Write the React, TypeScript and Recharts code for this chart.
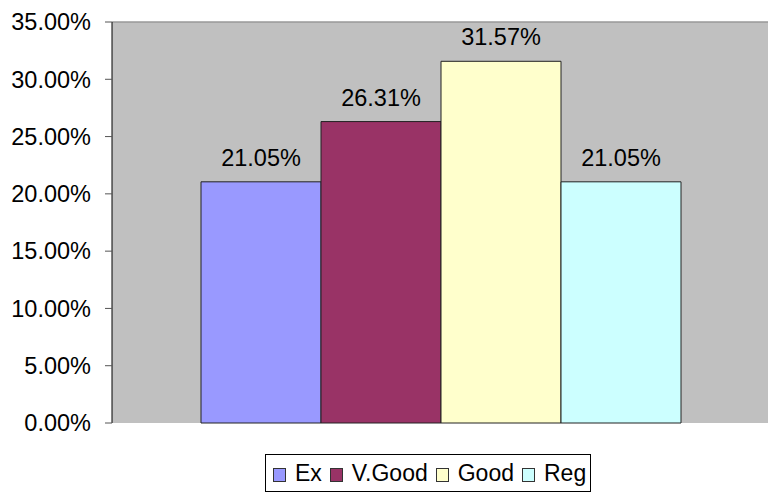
import React from 'react';
import {
  BarChart,
  Bar,
  XAxis,
  YAxis,
  CartesianGrid,
  ReferenceLine,
  Legend,
  LabelList
} from 'recharts';

const seriesNames = ['Ex', 'V.Good', 'Good', 'Reg'];
const seriesValues = [0.2105, 0.2631, 0.3157, 0.2105];
const seriesColors = ['#9999FF', '#993366', '#FFFFCC', '#CCFFFF'];
const yTicks = [0, 0.05, 0.1, 0.15, 0.2, 0.25, 0.3, 0.35];

const row: Record<string, number | string> = { name: '' };
seriesNames.forEach((n, i) => {
  row[n] = seriesValues[i];
});
const data = [row];

const font = '"Liberation Sans", Arial, sans-serif';
const pct = (v: number) => `${(Number(v) * 100).toFixed(2)}%`;

const LegendBox = () => (
  <div style={{ paddingTop: 31, paddingLeft: 265 }}>
    <div
      style={{
        display: 'inline-flex',
        alignItems: 'center',
        border: '1px solid #000',
        height: 36,
        padding: '0 4px 0 7px',
        fontFamily: font,
        fontSize: 23,
        color: '#000',
        background: '#fff'
      }}
    >
      {seriesNames.map((n, i) => (
        <span key={n} style={{ display: 'inline-flex', alignItems: 'center', marginRight: i < 3 ? 8 : 0 }}>
          <span
            style={{
              display: 'inline-block',
              width: 11,
              height: 12,
              background: seriesColors[i],
              border: '1px solid #333',
              marginRight: 9,
              marginTop: 3
            }}
          />
          {n}
        </span>
      ))}
    </div>
  </div>
);

export default function App() {
  return (
    <div style={{ position: 'absolute', left: 0, top: 0 }}>
      <BarChart
        width={768}
        height={493}
        data={data}
        margin={{ top: 22, right: 0, left: 0, bottom: 1 }}
        barCategoryGap={89}
        barGap={0}
      >
        <CartesianGrid fill="#C0C0C0" horizontal={false} vertical={false} />
        <XAxis
          dataKey="name"
          height={0}
          tick={false}
          tickLine={false}
          axisLine={{ stroke: '#808080', strokeWidth: 1.5 }}
        />
        <YAxis
          width={112}
          domain={[0, 0.35]}
          ticks={yTicks}
          interval={0}
          tickFormatter={pct}
          tickSize={7}
          tickMargin={14}
          tick={{ fill: '#000', fontSize: 23.5, fontFamily: font }}
          tickLine={{ stroke: '#555' }}
          axisLine={{ stroke: '#000' }}
        />
        <ReferenceLine y={0.35} stroke="#999" strokeWidth={1.5} />
        <Legend verticalAlign="bottom" content={<LegendBox />} />
        {seriesNames.map((n, i) => (
          <Bar
            key={n}
            dataKey={n}
            fill={seriesColors[i]}
            stroke="#222"
            strokeWidth={1}
            isAnimationActive={false}
          >
            <LabelList
              dataKey={n}
              position="top"
              offset={16}
              formatter={pct}
              style={{ fill: '#000', fontSize: 23.5, fontFamily: font }}
            />
          </Bar>
        ))}
      </BarChart>
    </div>
  );
}
